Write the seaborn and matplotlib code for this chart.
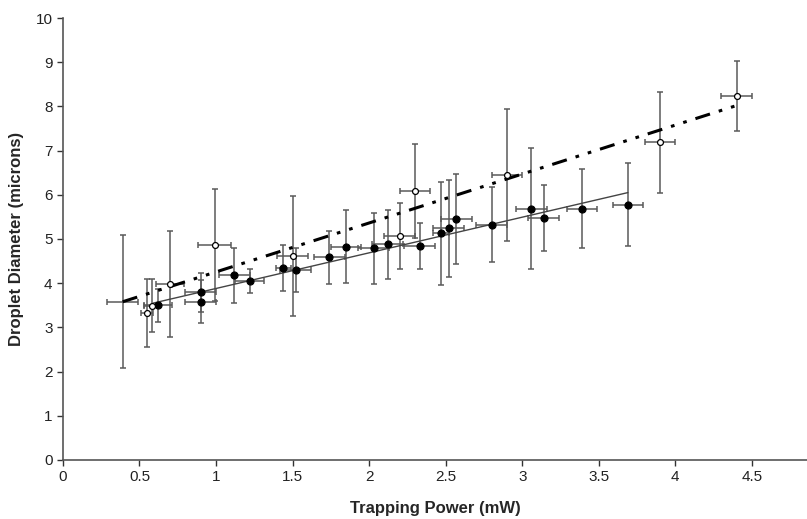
import numpy as np
import pandas as pd
import matplotlib
matplotlib.use("Agg")
import matplotlib.pyplot as plt
import seaborn as sns

# filled circles
filled_x = [0.62, 0.90, 0.90, 1.12, 1.22, 1.44, 1.52, 1.74, 1.85, 2.03,
            2.12, 2.33, 2.47, 2.52, 2.57, 2.80, 3.06, 3.14, 3.39, 3.69]
filled_y = [3.50, 3.79, 3.58, 4.18, 4.04, 4.34, 4.30, 4.59, 4.83, 4.79,
            4.88, 4.84, 5.13, 5.24, 5.45, 5.32, 5.69, 5.48, 5.69, 5.78]
filled_yerr = [0.37, 0.45, 0.49, 0.62, 0.27, 0.52, 0.50, 0.60, 0.83, 0.80,
               0.78, 0.53, 1.16, 1.10, 1.02, 0.85, 1.37, 0.75, 0.90, 0.93]
filled_xerr = [0.09, 0.10, 0.10, 0.10, 0.095, 0.05, 0.10, 0.10, 0.10, 0.10,
               0.10, 0.10, 0.05, 0.10, 0.10, 0.10, 0.10, 0.10, 0.10, 0.10]

# open circles
open_x = [0.55, 0.58, 0.70, 0.99, 1.50, 2.20, 2.30, 2.90, 3.90, 4.40]
open_y = [3.32, 3.49, 3.98, 4.86, 4.62, 5.07, 6.09, 6.45, 7.19, 8.24]
open_yerr = [0.77, 0.60, 1.19, 1.27, 1.36, 0.75, 1.06, 1.50, 1.14, 0.79]
open_xerr = [0.04, 0.05, 0.09, 0.11, 0.10, 0.10, 0.10, 0.10, 0.10, 0.10]

# point at the start of the dashed line (marker hidden under the line)
hidden_x = [0.39]
hidden_y = [3.58]
hidden_yerr = [1.50]
hidden_xerr = [0.10]

# trend lines (end points)
fit_filled_x = [0.59, 3.69]
fit_filled_y = [3.55, 6.05]
fit_open_x = [0.39, 4.40]
fit_open_y = [3.58, 8.02]

sns.set_style("ticks")
plt.rcParams['font.family'] = ['Liberation Sans', 'DejaVu Sans']

fig = plt.figure(figsize=(8.07, 5.19), dpi=100)
ax = fig.add_axes([0.078, 0.1137, 0.922, 0.8516])

ebar = dict(fmt='none', ecolor='#5a5a5a', elinewidth=1.1, capsize=2.5,
            capthick=1.1, zorder=1)
ax.errorbar(filled_x, filled_y, yerr=filled_yerr, xerr=filled_xerr, **ebar)
ax.errorbar(open_x, open_y, yerr=open_yerr, xerr=open_xerr, **ebar)
ax.errorbar(hidden_x, hidden_y, yerr=hidden_yerr, xerr=hidden_xerr, **ebar)

sns.lineplot(x=fit_filled_x, y=fit_filled_y, ax=ax, color='#444444',
             linewidth=1.0, zorder=2)
sns.lineplot(x=fit_open_x, y=fit_open_y, ax=ax, color='black',
             linewidth=2.2, linestyle=(0, (5, 3, 1.2, 3, 1.2, 3)), zorder=2)

sns.scatterplot(x=filled_x, y=filled_y, ax=ax, color='black', marker='o',
                s=26, edgecolor='black', linewidth=0.8, zorder=3)
sns.scatterplot(x=open_x, y=open_y, ax=ax, color='white', marker='o',
                s=18, edgecolor='black', linewidth=0.9, zorder=3)

ax.set_xlim(0, 4.86)
ax.set_ylim(0, 10)
ax.set_xticks(np.arange(0, 4.6, 0.5))
ax.set_xticklabels(['0', '0.5', '1', '1.5', '2', '2.5', '3', '3.5', '4', '4.5'])
ax.set_yticks(range(0, 11))
ax.tick_params(axis='both', labelsize=11, direction='out', length=4,
               width=1, colors='#333333', labelcolor='#222222')
for side in ['left', 'bottom']:
    ax.spines[side].set_color('#555555')
    ax.spines[side].set_linewidth(1.2)
sns.despine(ax=ax)

ax.set_xlabel("Trapping Power (mW)", fontsize=12, fontweight='bold', labelpad=12)
ax.set_ylabel("Droplet Diameter (microns)", fontsize=12, fontweight='bold',
              labelpad=8)

fig.savefig("out.png", dpi=100)
